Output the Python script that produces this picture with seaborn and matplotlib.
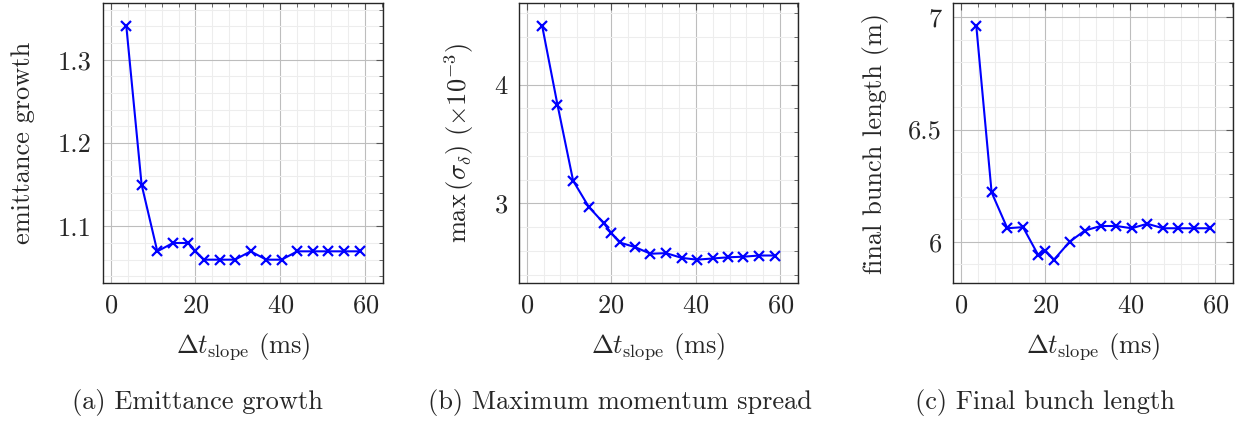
import matplotlib
matplotlib.use("Agg")
import matplotlib.pyplot as plt
from matplotlib.ticker import MultipleLocator, FuncFormatter
import pandas as pd
import seaborn as sns

# Ramp slope duration (ms)
slope_ms = [3.7, 7.3, 11.0, 14.7, 18.3, 20.0, 22.0, 25.7, 29.3, 33.0,
            36.7, 40.3, 44.0, 47.7, 51.3, 55.0, 58.7]

# Emittance growth factor
emittance_growth = [1.34, 1.15, 1.07, 1.08, 1.08, 1.07, 1.06, 1.06, 1.06,
                    1.07, 1.06, 1.06, 1.07, 1.07, 1.07, 1.07, 1.07]

# Maximum momentum spread (x 1e-3)
max_sigma_delta = [4.49, 3.83, 3.19, 2.97, 2.83, 2.75, 2.67, 2.63, 2.575,
                   2.58, 2.54, 2.525, 2.535, 2.545, 2.55, 2.56, 2.56]

# Final bunch length (m)
bunch_length = [6.96, 6.22, 6.06, 6.065, 5.94, 5.96, 5.92, 6.00, 6.05,
                6.07, 6.07, 6.06, 6.08, 6.06, 6.06, 6.06, 6.06]

x_label = r"$\Delta t_{\mathrm{slope}}$ (ms)"
y_labels = ["emittance growth",
            r"$\max\,(\sigma_{\delta})$ $(\times 10^{-3})$",
            "final bunch length (m)"]
captions = ["(a) Emittance growth", "(b) Maximum momentum spread",
            "(c) Final bunch length"]
x_major_ticks = [0, 20, 40, 60]

sns.set_style("white")
plt.rcParams["font.family"] = ["cmr10", "DejaVu Serif"]
plt.rcParams["mathtext.fontset"] = "cm"
plt.rcParams["axes.formatter.use_mathtext"] = True
plt.rcParams["axes.unicode_minus"] = False

FS = 19
W, H = 1242, 421
fig = plt.figure(figsize=(W / 100, H / 100), dpi=100)

# axes boxes in pixels: left, right, top, bottom
boxes = [(103, 383, 3, 283), (519, 798, 3, 283), (953, 1233, 3, 283)]
ylabel_x = [35, 476, 889]
y_major = [0.1, 1.0, 0.5]
y_minor = [0.02, 0.2, 0.1]
caption_x = [72, 428, 915]
series = [emittance_growth, max_sigma_delta, bunch_length]

plain = FuncFormatter(lambda v, _: f"{v:g}")

for i, (l, r, t, b) in enumerate(boxes):
    ax = fig.add_axes([l / W, 1 - b / H, (r - l) / W, (b - t) / H])
    df = pd.DataFrame({"x": slope_ms, "y": series[i]})
    sns.lineplot(data=df, x="x", y="y", ax=ax, color="#0000ff",
                 marker="x", markersize=7, markeredgewidth=1.6,
                 markeredgecolor="#0000ff", linewidth=1.5)
    ax.margins(x=0.1, y=0.1)
    ax.set_xticks(x_major_ticks)
    ax.xaxis.set_minor_locator(MultipleLocator(4))
    ax.yaxis.set_major_locator(MultipleLocator(y_major[i]))
    ax.yaxis.set_minor_locator(MultipleLocator(y_minor[i]))
    ax.yaxis.set_major_formatter(plain)
    ax.grid(which="major", color="#bdbdbd", linewidth=0.8)
    ax.grid(which="minor", color="#ededed", linewidth=0.8)
    ax.set_axisbelow(True)
    ax.tick_params(which="both", direction="in", top=True, right=True,
                   labelsize=FS, color="#555555")
    ax.tick_params(which="major", length=5, width=0.8, pad=8)
    ax.tick_params(which="minor", length=3, width=0.6)
    for s in ax.spines.values():
        s.set_color("#262626")
        s.set_linewidth(1.0)
    ax.set_xlabel(x_label, fontsize=FS)
    ax.set_ylabel(y_labels[i], fontsize=FS)
    ax.xaxis.set_label_coords(0.5, -(331 - b) / (b - t))
    ax.yaxis.set_label_coords((ylabel_x[i] - l) / (r - l), 0.5)
    fig.text(caption_x[i] / W, 1 - 403 / H, captions[i], fontsize=FS,
             ha="left", va="center")

fig.savefig("out.png", dpi=100)
